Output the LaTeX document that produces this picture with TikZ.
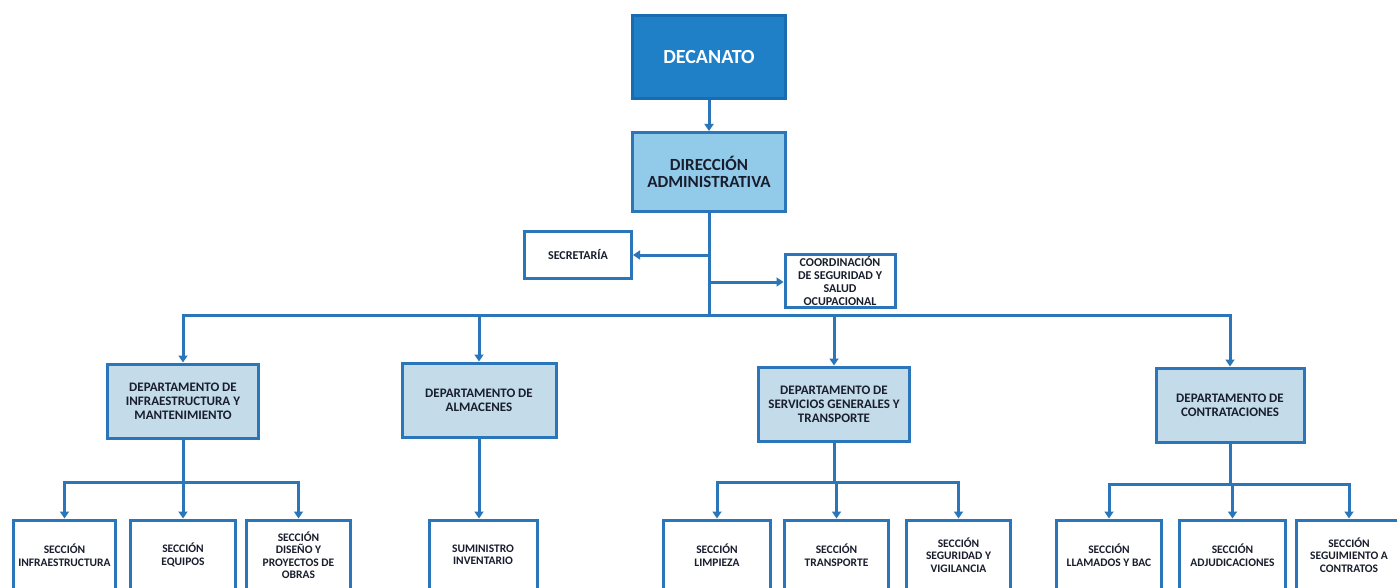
\documentclass[tikz,border=0pt]{standalone}
\usepackage{fontspec}
\setmainfont{Carlito}
\usetikzlibrary{arrows.meta}
\definecolor{orgline}{RGB}{42,118,184}
\definecolor{decafill}{RGB}{32,128,199}
\definecolor{decaline}{RGB}{26,108,176}
\definecolor{dirfill}{RGB}{146,202,234}
\definecolor{deptfill}{RGB}{196,220,234}
\definecolor{orgtext}{RGB}{25,30,45}
\begin{document}
\begin{tikzpicture}[x=1pt,y=-1pt,
    box/.style={draw=orgline,line width=3pt,align=center,text=orgtext,inner sep=2pt},
    topbox/.style={box,draw=decaline,fill=decafill,text=white,minimum width=153pt,minimum height=83pt,
                   font=\bfseries\fontsize{20}{22}\selectfont},
    dirbox/.style={box,fill=dirfill,minimum width=153pt,minimum height=79pt,font=\bfseries\fontsize{17}{17.5}\selectfont},
    sidebox/.style={box,fill=white,font=\bfseries\fontsize{12}{13}\selectfont},
    deptbox/.style={box,fill=deptfill,minimum width=151pt,minimum height=74pt,font=\bfseries\fontsize{13}{14}\selectfont},
    secbox/.style={box,fill=white,minimum height=70pt,font=\bfseries\fontsize{11.5}{12.5}\selectfont},
    link/.style={orgline,line width=3pt},
    arr/.style={link,-{Triangle[width=9pt,length=7pt]}}]
  \useasboundingbox[fill=white] (0,0) rectangle (1397,588);
  % top
  \node[topbox] (deca) at (709,57) {DECANATO};
  \node[dirbox] (dir) at (709,172) {DIRECCIÓN\\ADMINISTRATIVA};
  \node[sidebox,minimum width=107pt,minimum height=47pt,font=\bfseries\fontsize{12}{13}\selectfont] (secr) at (578,255) {SECRETARÍA};
  \node[sidebox,minimum width=110pt,minimum height=53pt,inner sep=0pt] (coord) at (840,281)
       {COORDINACIÓN\\DE SEGURIDAD Y\\SALUD\\OCUPACIONAL};
  \coordinate (bus) at (709,315);
  % departamentos
  \node[deptbox] (dinf) at (183,401) {DEPARTAMENTO DE\\INFRAESTRUCTURA Y\\MANTENIMIENTO};
  \node[deptbox,minimum width=154pt] (dalm) at (479,400) {DEPARTAMENTO DE\\ALMACENES};
  \node[deptbox] (dser) at (834,404) {DEPARTAMENTO DE\\SERVICIOS GENERALES Y\\TRANSPORTE};
  \node[deptbox,minimum width=148pt] (dcon) at (1230,405) {DEPARTAMENTO DE\\CONTRATACIONES};
  % secciones
  \node[secbox,minimum width=102pt] (sinfra) at (64.5,555) {SECCIÓN\\INFRAESTRUCTURA};
  \node[secbox,minimum width=105pt] (sequip) at (183,555) {SECCIÓN\\EQUIPOS};
  \node[secbox,minimum width=104pt] (sdise) at (298.5,555) {SECCIÓN\\DISEÑO Y\\PROYECTOS DE\\OBRAS};
  \node[secbox,minimum width=108pt] (ssumi) at (483,555) {SUMINISTRO\\INVENTARIO};
  \node[secbox,minimum width=107pt] (slimp) at (717,555) {SECCIÓN\\LIMPIEZA};
  \node[secbox,minimum width=104pt] (stran) at (836.5,555) {SECCIÓN\\TRANSPORTE};
  \node[secbox,minimum width=104pt] (sseg) at (958.5,555) {SECCIÓN\\SEGURIDAD Y\\VIGILANCIA};
  \node[secbox,minimum width=105pt] (sllam) at (1109,555) {SECCIÓN\\LLAMADOS Y BAC};
  \node[secbox,minimum width=106pt] (sadju) at (1232.5,555) {SECCIÓN\\ADJUDICACIONES};
  \node[secbox,minimum width=105pt] (sseto) at (1349,555) {SECCIÓN\\SEGUIMIENTO A\\CONTRATOS};
  % conectores
  \draw[arr] (deca) -- (dir);
  \draw[link] (dir.south) -- (bus);
  \draw[arr] (dir.south |- secr.east) -- (secr.east);
  \draw[arr] (dir.south |- 0,282) -- (coord.west |- 0,282);
  \foreach \d in {dinf,dalm,dser,dcon}
    \draw[arr] (bus) -| (\d.north);
  \coordinate (binf) at (dinf.south |- 0,482);
  \coordinate (bser) at (dser.south |- 0,482);
  \coordinate (bcon) at (dcon.south |- 0,484);
  \draw[link] (dinf.south) -- (binf);
  \draw[link] (dser.south) -- (bser);
  \draw[link] (dcon.south) -- (bcon);
  \foreach \s in {sinfra,sequip,sdise}
    \draw[arr] (binf) -| (\s.north);
  \foreach \s in {slimp,stran,sseg}
    \draw[arr] (bser) -| (\s.north);
  \foreach \s in {sllam,sadju,sseto}
    \draw[arr] (bcon) -| (\s.north);
  \draw[arr] (dalm.south) -- (dalm.south |- ssumi.north);
\end{tikzpicture}
\end{document}
